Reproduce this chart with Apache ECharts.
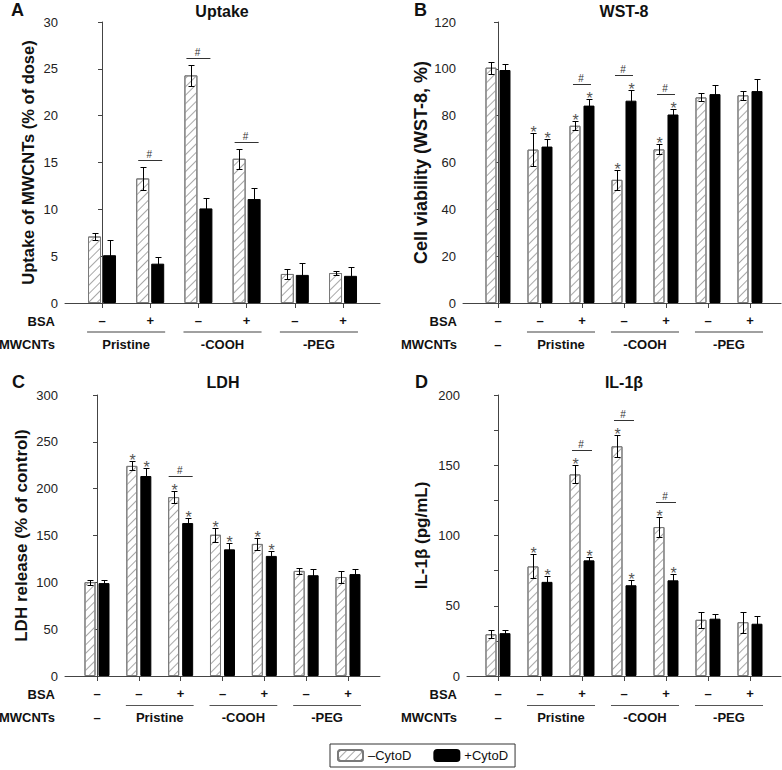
<!DOCTYPE html>
<html>
<head>
<meta charset="utf-8">
<script src="https://cdn.jsdelivr.net/npm/echarts@6/dist/echarts.min.js"></script>
<style>
html,body{margin:0;padding:0;background:#fff;}
#chart{width:782px;height:770px;}
</style>
</head>
<body>
<div id="chart"></div>
<script>
// ---------------- DATA ----------------
// Panel A: Uptake (% of dose)
const bsaA = ['–', '+', '–', '+', '–', '+'];
const mwLabelsA = ['Pristine', '-COOH', '-PEG'];
const mwSpansA = [[0, 1], [2, 3], [4, 5]];
const uptakeMinus = [7.1, 13.3, 24.3, 15.4, 3.1, 3.2];
const uptakeMinusErr = [0.4, 1.2, 1.1, 1.05, 0.5, 0.25];
const uptakePlus = [5.1, 4.2, 10.1, 11.1, 3.0, 2.9];
const uptakePlusErr = [1.6, 0.7, 1.1, 1.15, 1.25, 0.9];
const uptakeStarsMinus = [0, 0, 0, 0, 0, 0];
const uptakeStarsPlus = [0, 0, 0, 0, 0, 0];
const uptakeHash = [1, 2, 3];

// Panel B: WST-8 cell viability (%)
const bsaB = ['–', '–', '+', '–', '+', '–', '+'];
const mwLabelsB = ['–', 'Pristine', '-COOH', '-PEG'];
const mwSpansB = [[0, 0], [1, 2], [3, 4], [5, 6]];
const wstMinus = [100.5, 65.5, 75.7, 52.6, 65.6, 87.8, 88.7];
const wstMinusErr = [2.5, 7.1, 1.9, 4.4, 2.1, 1.7, 2.0];
const wstPlus = [99.5, 66.8, 84.3, 86.4, 80.5, 89.2, 90.5];
const wstPlusErr = [2.6, 3.2, 3.0, 4.4, 2.5, 4.0, 5.1];
const wstStarsMinus = [0, 1, 1, 1, 1, 0, 0];
const wstStarsPlus = [0, 1, 1, 1, 1, 0, 0];
const wstHash = [2, 3, 4];

// Panel C: LDH release (% of control)
const bsaC = ['–', '–', '+', '–', '+', '–', '+'];
const mwLabelsC = ['–', 'Pristine', '-COOH', '-PEG'];
const mwSpansC = [[0, 0], [1, 2], [3, 4], [5, 6]];
const ldhMinus = [100.2, 224.3, 191.0, 150.8, 141.0, 112.2, 105.7];
const ldhMinusErr = [2.8, 4.8, 6.8, 7.5, 6.8, 3.6, 6.0];
const ldhPlus = [99.2, 213.5, 163.3, 135.2, 128.2, 107.6, 108.8];
const ldhPlusErr = [3.5, 9.0, 5.5, 6.8, 5.0, 7.0, 5.0];
const ldhStarsMinus = [0, 1, 1, 1, 1, 0, 0];
const ldhStarsPlus = [0, 1, 1, 1, 1, 0, 0];
const ldhHash = [2];

// Panel D: IL-1β (pg/mL)
const bsaD = ['–', '–', '+', '–', '+', '–', '+'];
const mwLabelsD = ['–', 'Pristine', '-COOH', '-PEG'];
const mwSpansD = [[0, 0], [1, 2], [3, 4], [5, 6]];
const il1Minus = [29.7, 78.0, 143.5, 163.5, 106.0, 40.0, 38.3];
const il1MinusErr = [2.7, 8.5, 6.4, 7.7, 7.0, 5.6, 7.5];
const il1Plus = [30.5, 67.0, 82.3, 64.6, 68.1, 40.8, 37.2];
const il1PlusErr = [2.4, 4.4, 2.5, 4.0, 4.8, 3.0, 5.2];
const il1StarsMinus = [0, 1, 1, 1, 1, 0, 0];
const il1StarsPlus = [0, 1, 1, 1, 1, 0, 0];
const il1Hash = [2, 3, 4];

const seriesNames = ['–CytoD', '+CytoD'];
const rowNames = ['BSA', 'MWCNTs'];

// ---------------- LAYOUT / STYLE ----------------
const FONT = '"Liberation Sans", Arial, Helvetica, sans-serif';
const HATCH = {
  symbol: 'rect', symbolSize: 1, color: '#a8a8a8', backgroundColor: '#ffffff',
  dashArrayX: [1, 0], dashArrayY: [1, 5], rotation: -Math.PI / 4
};

const panels = [
  { letter: 'A', title: 'Uptake', yName: 'Uptake of MWCNTs (% of dose)', yMax: 30, yStep: 5, minor: false,
    bsa: bsaA, mwLabels: mwLabelsA, mwSpans: mwSpansA,
    minus: uptakeMinus, minusErr: uptakeMinusErr, plus: uptakePlus, plusErr: uptakePlusErr,
    starsMinus: uptakeStarsMinus, starsPlus: uptakeStarsPlus, hash: uptakeHash,
    L: { left: 65, top: 22, height: 281, unit: 48.2, xMin: -0.768, xMax: 5.768, barW: 13, gap: 2,
         nameGap: 29, nameSize: 16.5, rowX: 10, lineW: 2, lineColor: '#a0a0a0', hashHW: 12,
         titleX: 222, titleY: 11, letterX: 11, letterY: 10 } },
  { letter: 'B', title: 'WST-8', yName: 'Cell viability (WST-8, %)', yMax: 120, yStep: 20, minor: false,
    bsa: bsaB, mwLabels: mwLabelsB, mwSpans: mwSpansB,
    minus: wstMinus, minusErr: wstMinusErr, plus: wstPlus, plusErr: wstPlusErr,
    starsMinus: wstStarsMinus, starsPlus: wstStarsPlus, hash: wstHash,
    L: { left: 463, top: 22, height: 281, unit: 42, xMin: -0.833, xMax: 6.74, barW: 11, gap: 3,
         nameGap: 32, nameSize: 18, rowX: 6, lineW: 2, lineColor: '#a0a0a0', hashHW: 9,
         titleX: 624, titleY: 11, letterX: 414, letterY: 10 } },
  { letter: 'C', title: 'LDH', yName: 'LDH release (% of control)', yMax: 300, yStep: 50, minor: false,
    bsa: bsaC, mwLabels: mwLabelsC, mwSpans: mwSpansC,
    minus: ldhMinus, minusErr: ldhMinusErr, plus: ldhPlus, plusErr: ldhPlusErr,
    starsMinus: ldhStarsMinus, starsPlus: ldhStarsPlus, hash: ldhHash,
    L: { left: 65, top: 395, height: 281, unit: 41.83, xMin: -0.765, xMax: 6.765, barW: 11, gap: 3,
         nameGap: 35, nameSize: 17, rowX: 10, lineW: 1, lineColor: '#555', hashHW: 12,
         titleX: 223, titleY: 382, letterX: 12, letterY: 382 } },
  { letter: 'D', title: 'IL-1β', yName: 'IL-1β (pg/mL)', yMax: 200, yStep: 50, minor: true,
    bsa: bsaD, mwLabels: mwLabelsD, mwSpans: mwSpansD,
    minus: il1Minus, minusErr: il1MinusErr, plus: il1Plus, plusErr: il1PlusErr,
    starsMinus: il1StarsMinus, starsPlus: il1StarsPlus, hash: il1Hash,
    L: { left: 467, top: 395, height: 281, unit: 42, xMin: -0.738, xMax: 6.738, barW: 11, gap: 3,
         nameGap: 37, nameSize: 17, rowX: 10, lineW: 1, lineColor: '#555', hashHW: 10,
         titleX: 624, titleY: 382, letterX: 415, letterY: 382 } }
];

// ---------------- BUILD OPTION ----------------
const grid = [], xAxis = [], yAxis = [], series = [], graphic = [];
const AX = '#444';

function txt(text, x, y, align, vAlign, font, fill) {
  return { type: 'text', style: { text, x, y, align, textAlign: align, verticalAlign: vAlign, textVerticalAlign: vAlign, font, fill: fill || '#111' } };
}

panels.forEach((p, gi) => {
  const L = p.L;
  const width = (L.xMax - L.xMin) * L.unit;
  grid.push({ left: L.left, top: L.top, width: width, height: L.height, containLabel: false });
  const ticks = p.bsa.map((_, i) => i);
  xAxis.push({
    type: 'value', gridIndex: gi, min: L.xMin, max: L.xMax,
    splitLine: { show: false },
    axisLine: { show: true, onZero: false, lineStyle: { color: AX, width: 1 } },
    axisTick: { show: true, length: 5, customValues: ticks, lineStyle: { color: AX } },
    axisLabel: { show: true, customValues: ticks, margin: 11, fontFamily: FONT, fontWeight: 'bold', fontSize: 13, color: '#111',
                 formatter: (v) => p.bsa[Math.round(v)] },
  });
  yAxis.push({
    type: 'value', gridIndex: gi, min: 0, max: p.yMax, interval: p.yStep,
    name: p.yName, nameLocation: 'middle', nameGap: L.nameGap,
    nameTextStyle: { fontFamily: FONT, fontWeight: 'bold', fontSize: L.nameSize, color: '#111' },
    splitLine: { show: false },
    axisLine: { show: true, lineStyle: { color: AX, width: 1 } },
    axisTick: { show: true, length: 4, lineStyle: { color: AX } },
    minorTick: { show: p.minor, splitNumber: 2, length: 4, lineStyle: { color: AX } },
    axisLabel: { margin: 7, fontFamily: FONT, fontSize: 13, color: '#222' }
  });

  series.push({
    name: seriesNames[0], type: 'bar', xAxisIndex: gi, yAxisIndex: gi,
    barWidth: L.barW, barGap: (L.gap / L.barW * 100).toFixed(1) + '%',
    data: p.minus.map((v, i) => [i, v]),
    itemStyle: { color: '#ffffff', borderColor: '#7a7a7a', borderWidth: 1, decal: HATCH },
    emphasis: { disabled: true }, z: 2
  });
  series.push({
    name: seriesNames[1], type: 'bar', xAxisIndex: gi, yAxisIndex: gi,
    barWidth: L.barW, barGap: (L.gap / L.barW * 100).toFixed(1) + '%',
    data: p.plus.map((v, i) => [i, v]),
    itemStyle: { color: '#000000', borderColor: '#000000', borderWidth: 1 },
    emphasis: { disabled: true }, z: 2
  });

  // error bars + asterisks
  [[p.minus, p.minusErr, p.starsMinus, -1], [p.plus, p.plusErr, p.starsPlus, 1]].forEach(([vals, errs, stars, side]) => {
    const off = side * (L.barW + L.gap) / 2;
    series.push({
      type: 'custom', xAxisIndex: gi, yAxisIndex: gi, clip: false, silent: true, z: 5,
      encode: { x: 0, y: 1 },
      data: vals.map((v, i) => [i, v, errs[i], stars[i]]),
      renderItem: (params, api) => {
        const i = api.value(0), v = api.value(1), e = api.value(2), s = api.value(3);
        const t = api.coord([i, v + e]), b = api.coord([i, v - e]);
        const x = Math.round(t[0] + off) + 0.5;
        const ty = Math.round(t[1]) + 0.5, by = Math.round(b[1]) + 0.5;
        const st = { stroke: '#000', lineWidth: 1 };
        const ch = [
          { type: 'line', shape: { x1: x, y1: ty, x2: x, y2: by }, style: st },
          { type: 'line', shape: { x1: x - 3, y1: ty, x2: x + 3, y2: ty }, style: st },
          { type: 'line', shape: { x1: x - 3, y1: by, x2: x + 3, y2: by }, style: st }
        ];
        if (s) ch.push(txt('*', x, ty - 1, 'center', 'middle', '16px ' + FONT, '#555'));
        return { type: 'group', children: ch };
      }
    });
  });

  // # significance markers
  series.push({
    type: 'custom', xAxisIndex: gi, yAxisIndex: gi, clip: false, silent: true, z: 5,
    encode: { x: 0, y: 1 },
    data: p.hash.map(i => [i, p.minus[i] + p.minusErr[i], p.plus[i] + p.plusErr[i], p.starsMinus[i], p.starsPlus[i]]),
    renderItem: (params, api) => {
      const i = api.value(0);
      const y1 = api.coord([i, api.value(1)])[1] - (api.value(3) ? 15 : 7);
      const y2 = api.coord([i, api.value(2)])[1] - (api.value(4) ? 15 : 7);
      const y = Math.round(Math.min(y1, y2)) + 0.5;
      const cx = api.coord([i, 0])[0];
      return { type: 'group', children: [
        { type: 'line', shape: { x1: cx - L.hashHW, y1: y, x2: cx + L.hashHW, y2: y }, style: { stroke: '#333', lineWidth: 1 } },
        txt('#', cx - 1, y - 6, 'center', 'middle', '10px ' + FONT, '#333')
      ] };
    }
  });

  // row labels: MWCNT groups, lines, row names
  series.push({
    type: 'custom', xAxisIndex: gi, yAxisIndex: gi, clip: false, silent: true, z: 5,
    encode: { x: 0, y: 2 },
    data: p.mwSpans.map(s => [s[0], s[1], 0]),
    renderItem: (params, api) => {
      const a = api.value(0), b = api.value(1);
      const base = api.coord([a, 0])[1];
      const pad = a === b ? 0 : 0.31;
      const xa = api.coord([a - pad, 0])[0], xb = api.coord([b + pad, 0])[0];
      const ch = [];
      if (a !== b) {
        const ly = Math.round(base + 29) + (L.lineW === 1 ? 0.5 : 0);
        ch.push({ type: 'line', shape: { x1: xa, y1: ly, x2: xb, y2: ly }, style: { stroke: L.lineColor, lineWidth: L.lineW } });
      }
      ch.push(txt(p.mwLabels[params.dataIndex], (xa + xb) / 2, base + 41, 'center', 'middle', 'bold 13px ' + FONT, '#111'));
      if (params.dataIndex === 0) {
        const xl = api.coord([L.xMin, 0])[0] - L.rowX;
        ch.push(txt(rowNames[0], xl, base + 18, 'right', 'middle', 'bold 13px ' + FONT, '#111'));
        ch.push(txt(rowNames[1], xl, base + 41, 'right', 'middle', 'bold 13px ' + FONT, '#111'));
      }
      return { type: 'group', children: ch };
    }
  });

  graphic.push({ type: 'text', x: L.titleX, y: L.titleY,
    style: { text: p.title, align: 'center', textAlign: 'center', verticalAlign: 'middle', textVerticalAlign: 'middle', font: 'bold 16px ' + FONT, fill: '#111' } });
  graphic.push({ type: 'text', x: L.letterX, y: L.letterY,
    style: { text: p.letter, align: 'left', textAlign: 'left', verticalAlign: 'middle', textVerticalAlign: 'middle', font: 'bold 18px ' + FONT, fill: '#111' } });
});

const option = {
  animation: false,
  backgroundColor: '#ffffff',
  grid, xAxis, yAxis, series, graphic,
  legend: {
    data: seriesNames, left: 330, top: 744, orient: 'horizontal',
    itemWidth: 25, itemHeight: 11, itemGap: 22,
    padding: [5, 7, 5, 7], borderColor: '#333', borderWidth: 1,
    selectedMode: false,
    textStyle: { fontFamily: FONT, fontSize: 13, color: '#111' }
  }
};

const chart = echarts.init(document.getElementById('chart'), null, { renderer: 'svg', width: 782, height: 770 });
chart.setOption(option);
</script>
</body>
</html>
